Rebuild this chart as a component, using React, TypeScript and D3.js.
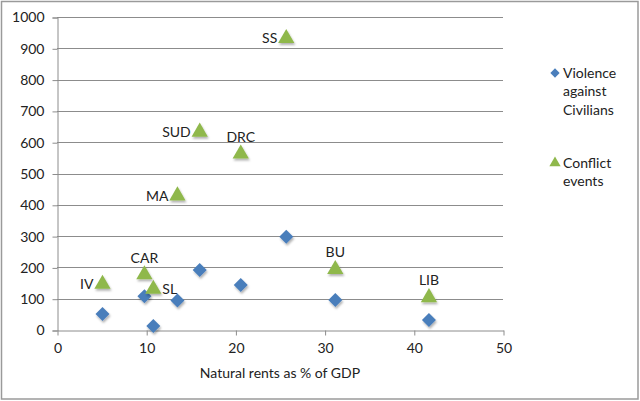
import React, { useEffect, useRef } from 'react';
import * as d3 from 'd3';

const countries = ['IV', 'CAR', 'SL', 'MA', 'SUD', 'DRC', 'SS', 'BU', 'LIB'];
const naturalRents = [5.1, 9.8, 10.8, 13.5, 16.0, 20.6, 25.7, 31.2, 41.7];
const violence = [51, 108, 13, 94, 192, 144, 298, 96, 32];
const conflict = [150, 180, 134, 432, 636, 566, 935, 197, 107];
// where each country label sits relative to its triangle
const labelPos = ['left', 'top', 'right', 'left', 'left', 'top', 'left', 'top', 'top'];

const xTicks = [0, 10, 20, 30, 40, 50];
const yTicks = [0, 100, 200, 300, 400, 500, 600, 700, 800, 900, 1000];

const BLUE = '#4a7ebb';
const GREEN = '#8fb84c';
const GRID = '#8c8c8c';
const FONT = 'Lato, "Open Sans", sans-serif';
const FS = 14;

const App: React.FC = () => {
  const svgRef = useRef<SVGSVGElement>(null);

  useEffect(() => {
    document.body.style.margin = '0';
    if (!svgRef.current) return;
    const width = 640;
    const height = 401;
    const svg = d3.select(svgRef.current);
    svg.selectAll('*').remove();
    svg.attr('width', width).attr('height', height).style('display', 'block');

    svg.append('rect')
      .attr('x', 0).attr('y', 0).attr('width', width).attr('height', height)
      .attr('fill', '#fff');
    svg.append('rect')
      .attr('x', 1.5).attr('y', 1.5).attr('width', width - 3.5).attr('height', height - 3.5)
      .attr('fill', 'none').attr('stroke', '#9a9a9a').attr('stroke-width', 1.5);

    const defs = svg.append('defs');
    const f = defs.append('filter').attr('id', 'shadow')
      .attr('x', '-50%').attr('y', '-50%').attr('width', '200%').attr('height', '200%');
    f.append('feDropShadow').attr('dx', 1).attr('dy', 2).attr('stdDeviation', 1.2)
      .attr('flood-color', '#000').attr('flood-opacity', 0.3);

    const xScale = d3.scaleLinear().domain([0, 50]).range([57, 503]);
    const yScale = d3.scaleLinear().domain([0, 1000]).range([330, 17]);

    // gridlines
    svg.append('g')
      .selectAll('line')
      .data(yTicks.filter((t) => t > 0))
      .enter()
      .append('line')
      .attr('x1', xScale(0)).attr('x2', xScale(50))
      .attr('y1', (d) => Math.round(yScale(d)) + 0.5)
      .attr('y2', (d) => Math.round(yScale(d)) + 0.5)
      .attr('stroke', GRID).attr('stroke-width', 1);

    // y axis
    const yAxis = svg.append('g')
      .attr('transform', `translate(${xScale(0) + 0.5},0.5)`)
      .call(d3.axisLeft(yScale).tickValues(yTicks).tickSize(5).tickPadding(8).tickFormat(d3.format('d')));
    yAxis.select('.domain').attr('stroke', GRID);
    yAxis.selectAll('line').attr('stroke', GRID);
    yAxis.selectAll('text').attr('font-family', FONT).attr('font-size', FS).attr('fill', '#222');

    // x axis
    const xAxis = svg.append('g')
      .attr('transform', `translate(0.5,${Math.round(yScale(0)) + 0.5})`)
      .call(d3.axisBottom(xScale).tickValues(xTicks).tickSize(5).tickSizeOuter(0).tickPadding(8).tickFormat(d3.format('d')));
    xAxis.select('.domain').attr('stroke', GRID);
    xAxis.selectAll('line').attr('stroke', GRID);
    xAxis.selectAll('text').attr('font-family', FONT).attr('font-size', FS).attr('fill', '#222');

    svg.append('text')
      .attr('x', 280).attr('y', 378)
      .attr('text-anchor', 'middle')
      .attr('font-family', FONT).attr('font-size', FS).attr('fill', '#222')
      .text('Natural rents as % of GDP');

    const diamond = d3.symbol().type(d3.symbolDiamond2).size(125);
    const triangle = d3.symbol().type(d3.symbolTriangle).size(115);

    svg.append('g')
      .selectAll('path')
      .data(violence)
      .enter()
      .append('path')
      .attr('d', diamond)
      .attr('transform', (d, i) => `translate(${xScale(naturalRents[i])},${yScale(d)})`)
      .attr('fill', BLUE)
      .attr('filter', 'url(#shadow)');

    svg.append('g')
      .selectAll('path')
      .data(conflict)
      .enter()
      .append('path')
      .attr('d', triangle)
      .attr('transform', (d, i) => `translate(${xScale(naturalRents[i])},${yScale(d) + 1})`)
      .attr('fill', GREEN)
      .attr('filter', 'url(#shadow)');

    svg.append('g')
      .selectAll('text')
      .data(countries)
      .enter()
      .append('text')
      .attr('x', (d, i) => {
        const cx = xScale(naturalRents[i]);
        if (labelPos[i] === 'left') return cx - 9;
        if (labelPos[i] === 'right') return cx + 9;
        return cx;
      })
      .attr('y', (d, i) => {
        const cy = yScale(conflict[i]);
        if (labelPos[i] === 'top') return cy - 16;
        return cy + 1;
      })
      .attr('dy', '0.35em')
      .attr('text-anchor', (d, i) => (labelPos[i] === 'left' ? 'end' : labelPos[i] === 'right' ? 'start' : 'middle'))
      .attr('font-family', FONT).attr('font-size', FS).attr('fill', '#222')
      .text((d) => d);

    // legend
    const legend = [
      { lines: ['Violence', 'against', 'Civilians'], y: 73, sym: d3.symbol().type(d3.symbolDiamond2).size(55), color: BLUE },
      { lines: ['Conflict', 'events'], y: 163, sym: d3.symbol().type(d3.symbolTriangle).size(55), color: GREEN },
    ];
    legend.forEach((item) => {
      svg.append('path')
        .attr('d', item.sym)
        .attr('transform', `translate(555,${item.y})`)
        .attr('fill', item.color);
      item.lines.forEach((line, j) => {
        svg.append('text')
          .attr('x', 563).attr('y', item.y + j * 18.5)
          .attr('dy', '0.35em')
          .attr('font-family', FONT).attr('font-size', FS).attr('fill', '#222')
          .text(line);
      });
    });
  }, []);

  return <svg ref={svgRef} />;
};

export default App;
